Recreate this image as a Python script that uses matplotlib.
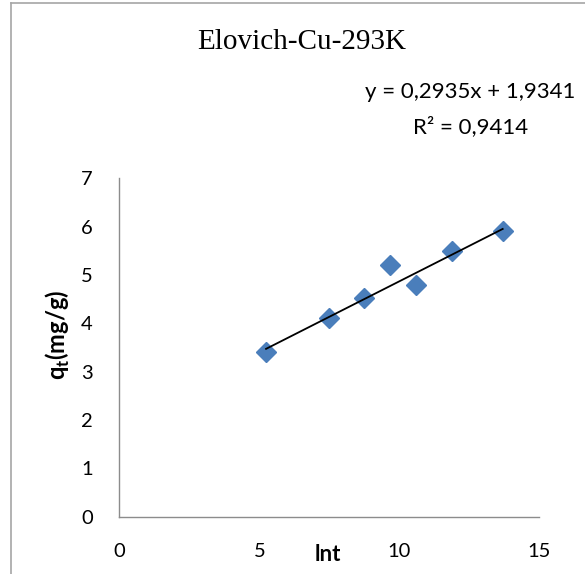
import numpy as np
import matplotlib.pyplot as plt
from matplotlib.lines import Line2D

# ln t and q_t values for the Elovich fit
ln_t = [5.24, 7.50, 8.74, 9.68, 10.59, 11.88, 13.69]
q_t = [3.41, 4.12, 4.52, 5.21, 4.79, 5.50, 5.90]
slope = 0.2935
intercept = 1.9341
r_squared = 0.9414

x_ticks = [0, 5, 10, 15]
y_ticks = [0, 1, 2, 3, 4, 5, 6, 7]

plt.rcParams['font.family'] = ['Lato', 'DejaVu Sans']

fig = plt.figure(figsize=(5.85, 5.74), dpi=100)
ax = fig.add_axes([0.204, 0.0998, 0.718, 0.5896])

ax.plot(ln_t, q_t, linestyle='none', marker='D', markersize=10,
        color='#4a7ebb', zorder=3)

# linear trend line over the data range
x_fit = np.array([min(ln_t), max(ln_t)])
ax.plot(x_fit, slope * x_fit + intercept, color='black', linewidth=1.3, zorder=4)

ax.set_xlim(0, 15)
ax.set_ylim(0, 7)
ax.set_xticks(x_ticks)
ax.set_yticks(y_ticks)
ax.tick_params(length=0, labelsize=14.5, colors='black')
ax.tick_params(axis='x', pad=19)
ax.tick_params(axis='y', pad=19)

for side in ['top', 'right']:
    ax.spines[side].set_visible(False)
for side in ['left', 'bottom']:
    ax.spines[side].set_color('#8c8c8c')
    ax.spines[side].set_linewidth(1.0)

ax.set_ylabel('q$_\\mathregular{t}$(mg/g)', fontsize=17, fontweight='bold',
              va='center')
ax.yaxis.set_label_coords(-0.146, 0.537)
ax.set_xlabel('lnt', fontsize=16, fontweight='bold', va='center')
ax.xaxis.set_label_coords(0.497, -0.113)

fig.text(0.515, 0.927, 'Elovich-Cu-293K', family='Liberation Serif',
         fontsize=21, ha='center', va='center')
fig.text(0.803, 0.840, f'y = {slope:.4f}x + {intercept:.4f}'.replace('.', ','),
         fontsize=16, ha='center', va='center')
fig.text(0.805, 0.779, f'R² = {r_squared:.4f}'.replace('.', ','),
         fontsize=16, ha='center', va='center')

# chart area border
fig.add_artist(Line2D([0.018, 0.018], [0, 0.995], color='#a6a6a6', linewidth=1.2))
fig.add_artist(Line2D([0.018, 1.0], [0.995, 0.995], color='#a6a6a6', linewidth=1.2))

fig.savefig('out.png', dpi=100)
